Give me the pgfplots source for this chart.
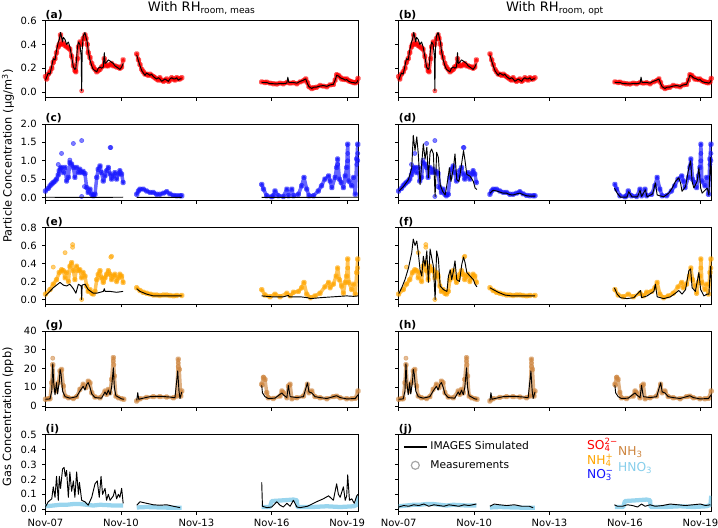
\documentclass[border=0pt]{standalone}
\usepackage{fontspec}
\setmainfont{DejaVu Sans}
\usepackage{pgfplots}
\usepackage{pgfplotstable}
\pgfplotsset{compat=1.18}
\definecolor{so4}{RGB}{255,0,0}
\definecolor{nh4}{RGB}{255,165,0}
\definecolor{no3}{RGB}{20,20,255}
\definecolor{nh3}{RGB}{205,133,63}
\definecolor{hno3}{RGB}{135,206,235}
\newcommand{\tickfont}{\fontsize{7.5}{8}\selectfont}

% ---------------- SO4 ----------------
\pgfplotstableread{
x y
7.00 0.13
7.05 0.11
7.11 0.15
7.18 0.17
7.25 0.20
7.31 0.25
7.38 0.28
7.44 0.33
7.51 0.38
7.55 0.40
7.60 0.48
7.64 0.40
7.71 0.41
7.78 0.39
7.84 0.38
7.91 0.37
7.97 0.36
8.04 0.30
8.11 0.22
8.17 0.18
8.21 0.17
8.27 0.28
8.31 0.38
8.37 0.42
8.44 0.40
8.50 0.45
8.57 0.48
8.61 0.45
8.66 0.40
8.70 0.33
8.77 0.29
8.84 0.24
8.90 0.21
8.97 0.19
9.04 0.17
9.10 0.18
9.17 0.19
9.23 0.21
9.30 0.22
9.34 0.28
9.37 0.24
9.43 0.22
9.50 0.22
9.57 0.23
9.63 0.24
9.70 0.22
9.76 0.22
9.83 0.21
9.90 0.21
9.96 0.20
10.03 0.21
10.09 0.27
nan nan
10.63 0.32
10.70 0.27
10.76 0.23
10.83 0.19
10.89 0.17
10.96 0.15
11.02 0.15
11.09 0.14
11.16 0.15
11.22 0.14
11.29 0.13
11.35 0.12
11.42 0.11
11.49 0.10
11.55 0.12
11.62 0.10
11.69 0.09
11.75 0.10
11.82 0.11
11.89 0.09
11.95 0.10
12.02 0.12
12.09 0.11
12.15 0.10
12.22 0.12
12.28 0.11
12.35 0.11
12.42 0.12
nan nan
15.60 0.085
15.73 0.080
15.80 0.083
15.93 0.075
16.06 0.070
16.20 0.068
16.33 0.075
16.46 0.070
16.60 0.080
16.73 0.075
16.86 0.078
17.00 0.070
17.13 0.085
17.26 0.095
17.35 0.11
17.42 0.08
17.48 0.045
17.59 0.030
17.66 0.036
17.78 0.040
17.92 0.055
18.05 0.050
18.19 0.045
18.32 0.060
18.45 0.064
18.52 0.10
18.58 0.145
18.65 0.140
18.72 0.125
18.78 0.110
18.85 0.110
18.92 0.105
18.98 0.110
19.06 0.095
19.12 0.090
19.18 0.085
19.25 0.080
19.32 0.078
19.38 0.085
19.43 0.115
}\measSO

\pgfplotstableread{
x y
7.00 0.10
7.11 0.16
7.18 0.15
7.25 0.22
7.31 0.28
7.38 0.27
7.44 0.35
7.51 0.42
7.55 0.44
7.60 0.50
7.64 0.46
7.68 0.42
7.71 0.46
7.78 0.44
7.84 0.40
7.91 0.42
7.97 0.38
8.04 0.30
8.11 0.21
8.17 0.19
8.21 0.20
8.27 0.37
8.31 0.42
8.37 0.40
8.42 0.30
8.44 0.01
8.46 0.35
8.50 0.47
8.57 0.50
8.61 0.46
8.66 0.42
8.70 0.35
8.77 0.27
8.84 0.22
8.90 0.19
8.97 0.18
9.04 0.17
9.10 0.20
9.17 0.21
9.23 0.20
9.30 0.21
9.34 0.33
9.37 0.24
9.43 0.25
9.50 0.27
9.57 0.26
9.63 0.25
9.70 0.24
9.76 0.22
9.83 0.21
9.90 0.20
9.96 0.19
10.03 0.21
10.09 0.24
nan nan
10.63 0.31
10.70 0.26
10.76 0.22
10.83 0.18
10.89 0.16
10.96 0.14
11.02 0.16
11.09 0.15
11.16 0.14
11.22 0.15
11.29 0.13
11.35 0.12
11.42 0.11
11.49 0.12
11.55 0.11
11.62 0.09
11.69 0.10
11.75 0.11
11.82 0.10
11.89 0.09
11.95 0.11
12.02 0.12
12.09 0.11
12.15 0.11
12.22 0.12
12.28 0.10
12.35 0.11
12.42 0.11
nan nan
15.60 0.08
15.73 0.08
15.80 0.08
15.93 0.07
16.06 0.07
16.20 0.068
16.33 0.072
16.46 0.07
16.60 0.075
16.64 0.125
16.68 0.08
16.86 0.08
17.00 0.075
17.13 0.09
17.26 0.10
17.35 0.11
17.42 0.07
17.48 0.045
17.59 0.03
17.66 0.04
17.78 0.042
17.92 0.05
18.05 0.055
18.19 0.048
18.32 0.06
18.45 0.065
18.52 0.10
18.58 0.14
18.65 0.135
18.72 0.12
18.78 0.115
18.85 0.11
18.92 0.10
18.98 0.105
19.06 0.09
19.12 0.085
19.18 0.08
19.25 0.08
19.32 0.075
19.38 0.08
19.43 0.10
}\simSO

% ---------------- NO3 ----------------
\pgfplotstableread{
x y
7.00 0.18
7.11 0.25
7.18 0.32
7.25 0.37
7.31 0.41
7.38 0.45
7.44 0.50
7.51 0.62
7.55 0.73
7.60 0.80
7.64 0.82
7.71 0.68
7.78 0.82
7.84 0.45
7.91 0.55
7.97 0.95
8.04 0.91
8.11 0.82
8.17 0.55
8.24 0.82
8.31 0.68
8.37 0.77
8.44 0.68
8.50 0.71
8.57 0.65
8.64 0.27
8.70 0.14
8.77 0.23
8.84 0.09
8.90 0.05
8.97 0.09
9.04 0.55
9.10 0.77
9.17 0.86
9.23 0.68
9.30 0.45
9.37 0.59
9.43 0.73
9.50 0.82
9.57 0.64
9.63 0.50
9.70 0.59
9.76 0.68
9.83 0.50
9.90 0.64
9.96 0.73
10.03 0.64
10.09 0.41
nan nan
10.63 0.09
10.70 0.18
10.76 0.23
10.89 0.23
11.02 0.18
11.16 0.14
11.29 0.14
11.42 0.09
11.55 0.09
11.69 0.12
11.82 0.16
11.95 0.10
12.09 0.06
12.22 0.05
12.35 0.05
12.42 0.05
nan nan
15.60 0.36
15.67 0.23
15.80 0.05
16.00 0.02
16.06 0.05
16.13 0.18
16.26 0.05
16.46 0.03
16.60 0.23
16.66 0.05
16.80 0.23
16.86 0.05
17.06 0.09
17.19 0.32
17.28 0.55
17.39 0.23
17.48 0.05
17.66 0.05
17.85 0.18
17.98 0.32
18.11 0.50
18.26 0.59
18.32 0.45
18.39 0.27
18.52 0.55
18.58 0.82
18.62 1.05
18.69 0.50
18.76 0.41
18.85 0.27
18.92 0.59
18.98 0.82
19.02 1.45
19.06 0.45
19.18 0.32
19.25 0.55
19.32 0.09
19.38 1.05
19.42 1.45
19.46 0.82
}\measNO

\pgfplotstableread{
x y
7.51 0.90
7.64 1.20
7.97 1.02
8.11 1.47
8.44 1.55
8.44 0.03
9.57 1.36
9.60 1.36
8.55 0.30
18.62 0.90
19.02 1.20
19.02 1.00
19.38 0.90
19.42 1.20
19.42 1.00
}\outNO

\pgfplotstableread{
x y
7.00 0.01
8.00 0.005
9.00 0.005
10.09 0.01
nan nan
10.63 0.005
12.42 0.005
nan nan
15.60 0.005
17.50 0.005
19.43 0.01
}\simNOa

\pgfplotstableread{
x y
7.00 0.17
7.19 0.30
7.39 0.49
7.52 0.81
7.58 1.69
7.65 1.28
7.72 1.65
7.78 1.19
7.85 0.35
7.98 1.46
8.05 1.05
8.12 1.37
8.18 0.54
8.25 1.23
8.31 1.32
8.38 1.19
8.45 0.03
8.51 1.23
8.58 1.09
8.65 0.35
8.75 0.17
8.85 0.07
8.94 0.44
9.02 0.81
9.08 0.44
9.18 0.81
9.24 1.19
9.31 0.49
9.40 0.44
9.51 0.95
9.58 1.28
9.64 1.00
9.71 0.63
9.84 0.58
9.97 0.44
10.04 0.26
10.11 0.22
nan nan
10.63 0.12
10.76 0.20
10.89 0.18
11.02 0.15
11.16 0.12
11.29 0.12
11.42 0.08
11.55 0.07
11.69 0.10
11.82 0.12
11.95 0.08
12.09 0.05
12.22 0.04
12.42 0.04
nan nan
15.58 0.26
15.69 0.12
15.82 0.01
16.08 0.01
16.15 0.16
16.28 0.02
16.50 0.02
16.60 0.20
16.66 0.03
16.81 0.21
16.88 0.02
17.10 0.10
17.21 0.40
17.28 0.07
17.54 0.02
17.74 0.12
17.88 0.26
18.01 0.44
18.14 0.54
18.21 0.40
18.27 0.17
18.41 0.30
18.54 0.81
18.61 1.00
18.67 0.44
18.74 0.26
18.87 0.44
18.94 0.81
19.01 0.26
19.07 0.12
19.14 0.17
19.27 0.26
19.34 0.07
19.40 1.09
19.45 0.26
}\simNOb

% ---------------- NH4 ----------------
\pgfplotstableread{
x y
7.00 0.06
7.18 0.11
7.31 0.17
7.44 0.22
7.55 0.30
7.64 0.33
7.71 0.32
7.78 0.24
7.84 0.30
7.91 0.20
7.97 0.37
8.04 0.41
8.11 0.32
8.17 0.22
8.24 0.37
8.31 0.32
8.37 0.33
8.44 0.24
8.50 0.30
8.57 0.26
8.64 0.15
8.70 0.09
8.77 0.11
8.84 0.07
8.90 0.06
8.97 0.09
9.04 0.22
9.10 0.28
9.17 0.32
9.23 0.24
9.30 0.19
9.37 0.24
9.43 0.28
9.50 0.32
9.57 0.28
9.63 0.22
9.70 0.26
9.76 0.28
9.83 0.20
9.90 0.24
9.96 0.28
10.03 0.26
10.09 0.19
nan nan
10.63 0.13
10.76 0.10
10.89 0.08
11.02 0.07
11.16 0.06
11.29 0.05
11.42 0.05
11.55 0.045
11.69 0.05
11.82 0.05
11.95 0.045
12.09 0.04
12.22 0.045
12.42 0.045
nan nan
15.60 0.11
15.73 0.05
15.93 0.03
16.13 0.06
16.33 0.03
16.60 0.07
16.73 0.04
16.86 0.08
17.06 0.09
17.19 0.13
17.28 0.19
17.39 0.06
17.54 0.02
17.72 0.04
17.92 0.07
18.11 0.14
18.26 0.19
18.32 0.13
18.45 0.17
18.56 0.26
18.62 0.35
18.69 0.22
18.78 0.15
18.85 0.07
18.92 0.19
18.98 0.26
19.02 0.45
19.06 0.19
19.18 0.11
19.25 0.17
19.32 0.06
19.38 0.30
19.42 0.45
19.46 0.26
}\measNH

\pgfplotstableread{
x y
7.31 0.36
7.78 0.52
8.08 0.61
8.08 0.58
8.44 0.00
9.60 0.47
9.63 0.48
19.02 0.35
19.42 0.35
}\outNH

\pgfplotstableread{
x y
7.00 0.04
7.31 0.13
7.58 0.19
7.71 0.16
7.84 0.15
7.97 0.17
8.11 0.12
8.21 0.07
8.31 0.17
8.42 0.15
8.44 0.00
8.46 0.16
8.57 0.17
8.70 0.11
8.90 0.07
9.04 0.07
9.17 0.08
9.30 0.09
9.34 0.12
9.37 0.09
9.57 0.09
9.83 0.08
10.09 0.09
nan nan
10.63 0.12
10.76 0.09
11.02 0.06
11.29 0.04
11.55 0.04
11.82 0.04
12.09 0.04
12.42 0.04
nan nan
15.60 0.04
16.00 0.03
16.46 0.03
16.66 0.045
16.70 0.03
17.13 0.03
17.42 0.02
17.54 0.01
17.92 0.02
18.45 0.03
18.98 0.04
19.25 0.035
19.43 0.04
}\simNHa

\pgfplotstableread{
x y
7.00 0.06
7.12 0.13
7.25 0.22
7.39 0.35
7.52 0.52
7.58 0.67
7.65 0.60
7.72 0.65
7.78 0.52
7.85 0.33
7.92 0.26
7.98 0.48
8.05 0.37
8.12 0.54
8.18 0.19
8.25 0.56
8.31 0.47
8.38 0.37
8.45 0.00
8.51 0.54
8.58 0.45
8.65 0.15
8.78 0.11
8.92 0.09
8.98 0.26
9.05 0.33
9.11 0.22
9.18 0.32
9.24 0.43
9.31 0.22
9.42 0.20
9.51 0.39
9.58 0.47
9.64 0.41
9.71 0.30
9.84 0.26
9.97 0.22
10.04 0.17
10.11 0.14
nan nan
10.63 0.13
10.76 0.11
10.96 0.08
11.22 0.05
11.49 0.04
11.75 0.04
12.02 0.04
12.42 0.04
nan nan
15.58 0.13
15.69 0.06
15.82 0.02
16.08 0.01
16.35 0.02
16.62 0.10
16.66 0.02
16.88 0.04
17.15 0.09
17.21 0.17
17.28 0.03
17.54 0.01
17.81 0.03
18.01 0.07
18.14 0.10
18.27 0.06
18.41 0.11
18.54 0.32
18.61 0.34
18.67 0.13
18.80 0.09
18.94 0.30
19.01 0.11
19.14 0.04
19.27 0.06
19.34 0.06
19.40 0.37
19.44 0.20
}\simNHb

% ---------------- NH3 ----------------
\pgfplotstableread{
x y
7.00 3.6
7.11 3.9
7.18 3.9
7.25 12.4
7.29 22.0
7.34 10.7
7.42 8.0
7.51 12.4
7.58 18.7
7.64 19.5
7.71 10.7
7.78 5.3
7.91 4.4
8.11 4.0
8.24 5.0
8.37 8.9
8.50 11.6
8.61 9.8
8.70 13.3
8.77 12.4
8.84 7.1
8.97 4.8
9.17 4.4
9.37 8.0
9.43 6.2
9.50 8.9
9.57 7.1
9.63 14.2
9.70 25.8
9.74 16.0
9.80 5.3
9.90 4.4
10.03 3.9
10.12 3.6
nan nan
10.63 2.7
10.76 3.9
11.02 4.6
11.29 5.0
11.55 5.0
11.82 4.8
12.09 4.4
12.22 5.3
12.28 25.0
12.32 19.5
12.38 5.3
12.42 8.0
nan nan
15.60 11.6
15.67 15.1
15.73 14.2
15.80 7.1
15.86 4.4
16.06 4.0
16.33 5.3
16.40 8.0
16.46 7.1
16.60 4.4
16.66 10.7
16.73 11.6
16.80 3.9
17.00 4.4
17.26 5.3
17.42 11.6
17.48 7.1
17.59 8.0
17.72 5.0
17.92 4.4
18.19 3.9
18.45 5.0
18.58 5.3
18.72 4.4
18.98 3.9
19.18 3.9
19.32 4.1
19.43 8.0
}\measNHt

\pgfplotstableread{
x y
7.29 25.5
9.70 24.0
9.72 22.0
12.28 23.0
12.28 21.0
15.67 15.5
15.62 11.0
}\outNHt

\pgfplotstableread{
x y
7.00 3.6
7.18 3.8
7.25 8.0
7.29 22.5
7.33 12.0
7.38 6.0
7.44 12.5
7.48 6.5
7.55 13.0
7.58 19.5
7.62 17.0
7.68 8.0
7.78 5.0
7.97 4.2
8.24 5.0
8.37 8.0
8.50 10.5
8.57 8.5
8.64 11.5
8.70 12.5
8.77 10.0
8.84 6.5
8.97 4.5
9.23 4.2
9.37 7.5
9.43 6.0
9.50 8.5
9.57 6.0
9.63 10.0
9.70 20.4
9.74 10.0
9.80 5.5
10.03 3.8
10.12 3.6
nan nan
10.63 3.0
10.67 7.1
10.71 3.6
10.89 4.2
11.16 5.0
11.55 5.2
11.95 4.8
12.15 4.4
12.26 18.7
12.31 8.0
12.35 4.0
12.42 7.5
nan nan
15.60 11.0
15.63 7.0
15.73 5.0
15.86 4.0
16.13 4.2
16.40 7.0
16.46 6.0
16.60 4.5
16.66 11.0
16.73 5.0
17.00 4.5
17.26 5.0
17.42 12.4
17.48 7.5
17.59 7.0
17.72 5.0
17.92 4.5
18.19 4.0
18.45 5.0
18.58 5.5
18.72 4.5
18.98 3.8
19.32 4.0
19.43 6.0
}\simNHt

% ---------------- HNO3 ----------------
\pgfplotstableread{
x y
7.00 0.02
7.31 0.025
7.58 0.03
7.84 0.03
8.11 0.035
8.37 0.035
8.64 0.03
8.90 0.025
9.17 0.03
9.43 0.028
9.70 0.025
10.09 0.025
nan nan
10.63 0.012
11.02 0.015
11.55 0.012
12.09 0.01
12.42 0.01
nan nan
15.60 0.015
15.93 0.015
16.00 0.055
16.46 0.06
16.86 0.065
17.00 0.06
17.02 0.015
17.59 0.015
18.19 0.02
18.72 0.015
19.25 0.02
19.40 0.03
19.43 0.09
}\measHN

\pgfplotstableread{
x y
7.00 0.016
7.11 0.05
7.25 0.07
7.31 0.15
7.38 0.08
7.44 0.22
7.51 0.06
7.55 0.22
7.60 0.14
7.68 0.27
7.74 0.28
7.79 0.22
7.84 0.26
7.91 0.08
7.97 0.25
8.04 0.12
8.11 0.19
8.17 0.08
8.24 0.25
8.31 0.10
8.35 0.18
8.44 0.06
8.57 0.05
8.70 0.027
8.84 0.08
8.97 0.17
9.06 0.19
9.14 0.08
9.21 0.22
9.27 0.10
9.37 0.14
9.43 0.06
9.50 0.10
9.57 0.06
9.70 0.09
9.76 0.13
9.83 0.07
9.90 0.10
9.96 0.08
10.03 0.14
10.09 0.04
nan nan
10.63 0.027
10.76 0.05
11.02 0.04
11.29 0.03
11.55 0.027
11.82 0.03
12.09 0.02
12.35 0.011
nan nan
15.60 0.18
15.63 0.02
15.80 0.011
16.00 0.015
16.20 0.05
16.33 0.027
16.46 0.015
16.60 0.04
16.73 0.02
16.86 0.06
17.00 0.015
17.13 0.011
17.42 0.02
17.78 0.05
18.05 0.07
18.26 0.09
18.45 0.06
18.58 0.17
18.65 0.10
18.72 0.08
18.85 0.15
18.92 0.06
18.98 0.09
19.02 0.23
19.09 0.06
19.18 0.07
19.28 0.04
19.38 0.09
19.43 0.10
}\simHNa

\pgfplotstableread{
x y
7.00 0.015
7.20 0.025
7.40 0.02
7.60 0.03
7.80 0.025
8.00 0.035
8.20 0.02
8.40 0.03
8.60 0.025
8.80 0.02
9.00 0.03
9.20 0.025
9.40 0.02
9.60 0.03
9.80 0.025
10.09 0.035
nan nan
10.63 0.02
10.80 0.035
11.00 0.03
11.30 0.025
11.60 0.03
11.90 0.02
12.20 0.02
12.35 0.01
nan nan
15.58 0.03
15.70 0.02
15.90 0.02
16.10 0.03
16.30 0.025
16.50 0.015
16.66 0.035
16.80 0.02
17.00 0.03
17.20 0.02
17.50 0.025
17.80 0.035
18.10 0.03
18.40 0.025
18.70 0.03
19.00 0.035
19.20 0.025
19.40 0.03
}\simHNb

\pgfplotsset{
  panel/.style={
    scale only axis, width=234.5pt, height=57.4pt,
    xmin=7, xmax=19.435,
    xtick={7,10,13,16,19}, xticklabels={},
    tick align=outside, xtick pos=lower, ytick pos=left,
    major tick length=2.6pt,
    tick style={black, line width=0.5pt},
    axis line style={line width=0.6pt},
    unbounded coords=jump,
    clip mode=individual,
    ticklabel style={font=\tickfont},
    /pgf/number format/assume math mode=true,
    yticklabel style={xshift=-0.5pt},
  },
  meas/.style={color=#1, opacity=0.65, line width=2.6pt, line join=round, line cap=round,
    mark=*, mark size=1.0pt, mark options={draw=none, fill=#1}},
  outl/.style={color=#1, only marks, mark=*, mark size=1.6pt, opacity=0.55,
    mark options={draw=none, fill=#1}},
  sim/.style={black, line width=0.7pt, line join=round},
}
\tikzset{plab/.style={font=\fontsize{8}{9}\selectfont\bfseries, anchor=base west, inner sep=0pt}}

\begin{document}
\begin{tikzpicture}[x=1pt,y=1pt]
\useasboundingbox (0,0) rectangle (538.5,396);

% ---------- (a) ----------
\begin{axis}[panel, at={(34.1pt,380.6pt)}, anchor=north west,
  ymin=-0.042, ymax=0.6, ytick={0,0.2,0.4,0.6}, yticklabels={0.0,0.2,0.4,0.6}]
\addplot[meas=so4] table {\measSO};
\addplot[outl=so4] coordinates {(8.44,0.01)};
\addplot[sim] table {\simSO};
\node[plab] at (rel axis cs:0,1) [yshift=1.8pt] {(a)};
\node[anchor=base, font=\fontsize{9.8}{11}\selectfont] at (rel axis cs:0.5,1) [yshift=6.8pt] {With RH\textsubscript{room, meas}};
\end{axis}
% ---------- (b) ----------
\begin{axis}[panel, at={(299pt,380.6pt)}, anchor=north west,
  ymin=-0.042, ymax=0.6, ytick={0,0.2,0.4,0.6}, yticklabels={}]
\addplot[meas=so4] table {\measSO};
\addplot[outl=so4] coordinates {(8.44,0.01)};
\addplot[sim] table {\simSO};
\node[plab] at (rel axis cs:0,1) [yshift=1.8pt] {(b)};
\node[anchor=base, font=\fontsize{9.8}{11}\selectfont] at (rel axis cs:0.5,1) [yshift=6.8pt] {With RH\textsubscript{room, opt}};
\end{axis}
% ---------- (c) ----------
\begin{axis}[panel, at={(34.1pt,303pt)}, anchor=north west,
  ymin=-0.08, ymax=2.0, ytick={0,0.5,1,1.5,2}, yticklabels={0.0,0.5,1.0,1.5,2.0}]
\addplot[meas=no3] table {\measNO};
\addplot[outl=no3] table {\outNO};
\addplot[sim] table {\simNOa};
\node[plab] at (rel axis cs:0,1) [yshift=1.8pt] {(c)};
\end{axis}
% ---------- (d) ----------
\begin{axis}[panel, at={(299pt,303pt)}, anchor=north west,
  ymin=-0.08, ymax=2.0, ytick={0,0.5,1,1.5,2}, yticklabels={}]
\addplot[meas=no3] table {\measNO};
\addplot[outl=no3] table {\outNO};
\addplot[sim] table {\simNOb};
\node[plab] at (rel axis cs:0,1) [yshift=1.8pt] {(d)};
\end{axis}
% ---------- (e) ----------
\begin{axis}[panel, at={(34.1pt,225.4pt)}, anchor=north west,
  ymin=-0.05, ymax=0.8, ytick={0,0.2,0.4,0.6,0.8}, yticklabels={0.0,0.2,0.4,0.6,0.8}]
\addplot[meas=nh4] table {\measNH};
\addplot[outl=nh4] table {\outNH};
\addplot[sim] table {\simNHa};
\node[plab] at (rel axis cs:0,1) [yshift=1.8pt] {(e)};
\end{axis}
% ---------- (f) ----------
\begin{axis}[panel, at={(299pt,225.4pt)}, anchor=north west,
  ymin=-0.05, ymax=0.8, ytick={0,0.2,0.4,0.6,0.8}, yticklabels={}]
\addplot[meas=nh4] table {\measNH};
\addplot[outl=nh4] table {\outNH};
\addplot[sim] table {\simNHb};
\node[plab] at (rel axis cs:0,1) [yshift=1.8pt] {(f)};
\end{axis}
% ---------- (g) ----------
\begin{axis}[panel, at={(34.1pt,147.75pt)}, anchor=north west,
  ymin=-0.8, ymax=40, ytick={0,10,20,30,40}, yticklabels={0,10,20,30,40}]
\addplot[meas=nh3] table {\measNHt};
\addplot[outl=nh3] table {\outNHt};
\addplot[sim] table {\simNHt};
\node[plab] at (rel axis cs:0,1) [yshift=1.8pt] {(g)};
\end{axis}
% ---------- (h) ----------
\begin{axis}[panel, at={(299pt,147.75pt)}, anchor=north west,
  ymin=-0.8, ymax=40, ytick={0,10,20,30,40}, yticklabels={}]
\addplot[meas=nh3] table {\measNHt};
\addplot[outl=nh3] table {\outNHt};
\addplot[sim] table {\simNHt};
\node[plab] at (rel axis cs:0,1) [yshift=1.8pt] {(h)};
\end{axis}
% ---------- (i) ----------
\begin{axis}[panel, at={(34.1pt,70.1pt)}, anchor=north west,
  ymin=-0.012, ymax=0.5, ytick={0,0.1,0.2,0.3,0.4,0.5}, yticklabels={0.0,0.1,0.2,0.3,0.4,0.5},
  xticklabels={Nov-07,Nov-10,Nov-13,Nov-16,Nov-19}]
\addplot[hno3, opacity=0.85, line width=3.2pt, line join=round] table {\measHN};
\addplot[sim] table {\simHNa};
\node[plab] at (rel axis cs:0,1) [yshift=1.8pt] {(i)};
\end{axis}
% ---------- (j) ----------
\begin{axis}[panel, at={(299pt,70.1pt)}, anchor=north west,
  ymin=-0.012, ymax=0.5, ytick={0,0.1,0.2,0.3,0.4,0.5}, yticklabels={},
  xticklabels={Nov-07,Nov-10,Nov-13,Nov-16,Nov-19},
  legend style={at={(0.0,0.98)}, anchor=north west, draw=none, fill=none,
    font=\fontsize{8}{9}\selectfont, row sep=2.5pt},
  legend cell align=left]
\addplot[hno3, opacity=0.85, line width=3.2pt, line join=round, forget plot] table {\measHN};
\addplot[sim, forget plot] table {\simHNb};
\addlegendimage{black, line width=1.5pt}
\addlegendentry{IMAGES Simulated}
\addlegendimage{only marks, mark=o, mark size=3pt, gray!70, line width=0.9pt}
\addlegendentry{Measurements}
\node[plab] at (rel axis cs:0,1) [yshift=1.8pt] {(j)};
\node[anchor=west, inner sep=0pt, text=so4, font=\fontsize{9.2}{10}\selectfont] at (rel axis cs:0.602,0.87) {SO\rlap{\textsubscript{4}}\textsuperscript{2−}};
\node[anchor=west, inner sep=0pt, text=nh4, font=\fontsize{9.2}{10}\selectfont] at (rel axis cs:0.602,0.665) {NH\rlap{\textsubscript{4}}\textsuperscript{+}};
\node[anchor=west, inner sep=0pt, text=no3, font=\fontsize{9.2}{10}\selectfont] at (rel axis cs:0.602,0.47) {NO\rlap{\textsubscript{3}}\textsuperscript{−}};
\node[anchor=west, inner sep=0pt, text=nh3, font=\fontsize{9.2}{10}\selectfont] at (rel axis cs:0.701,0.775) {NH\textsubscript{3}};
\node[anchor=west, inner sep=0pt, text=hno3, font=\fontsize{9.2}{10}\selectfont] at (rel axis cs:0.701,0.566) {HNO\textsubscript{3}};
\end{axis}

% ---------- y labels ----------
\node[rotate=90, font=\fontsize{8.5}{10}\selectfont] at (6pt,279pt) {Particle Concentration (μg/m\textsuperscript{3})};
\node[rotate=90, font=\fontsize{8.5}{10}\selectfont] at (6pt,83.25pt) {Gas Concentration (ppb)};
\end{tikzpicture}
\end{document}
